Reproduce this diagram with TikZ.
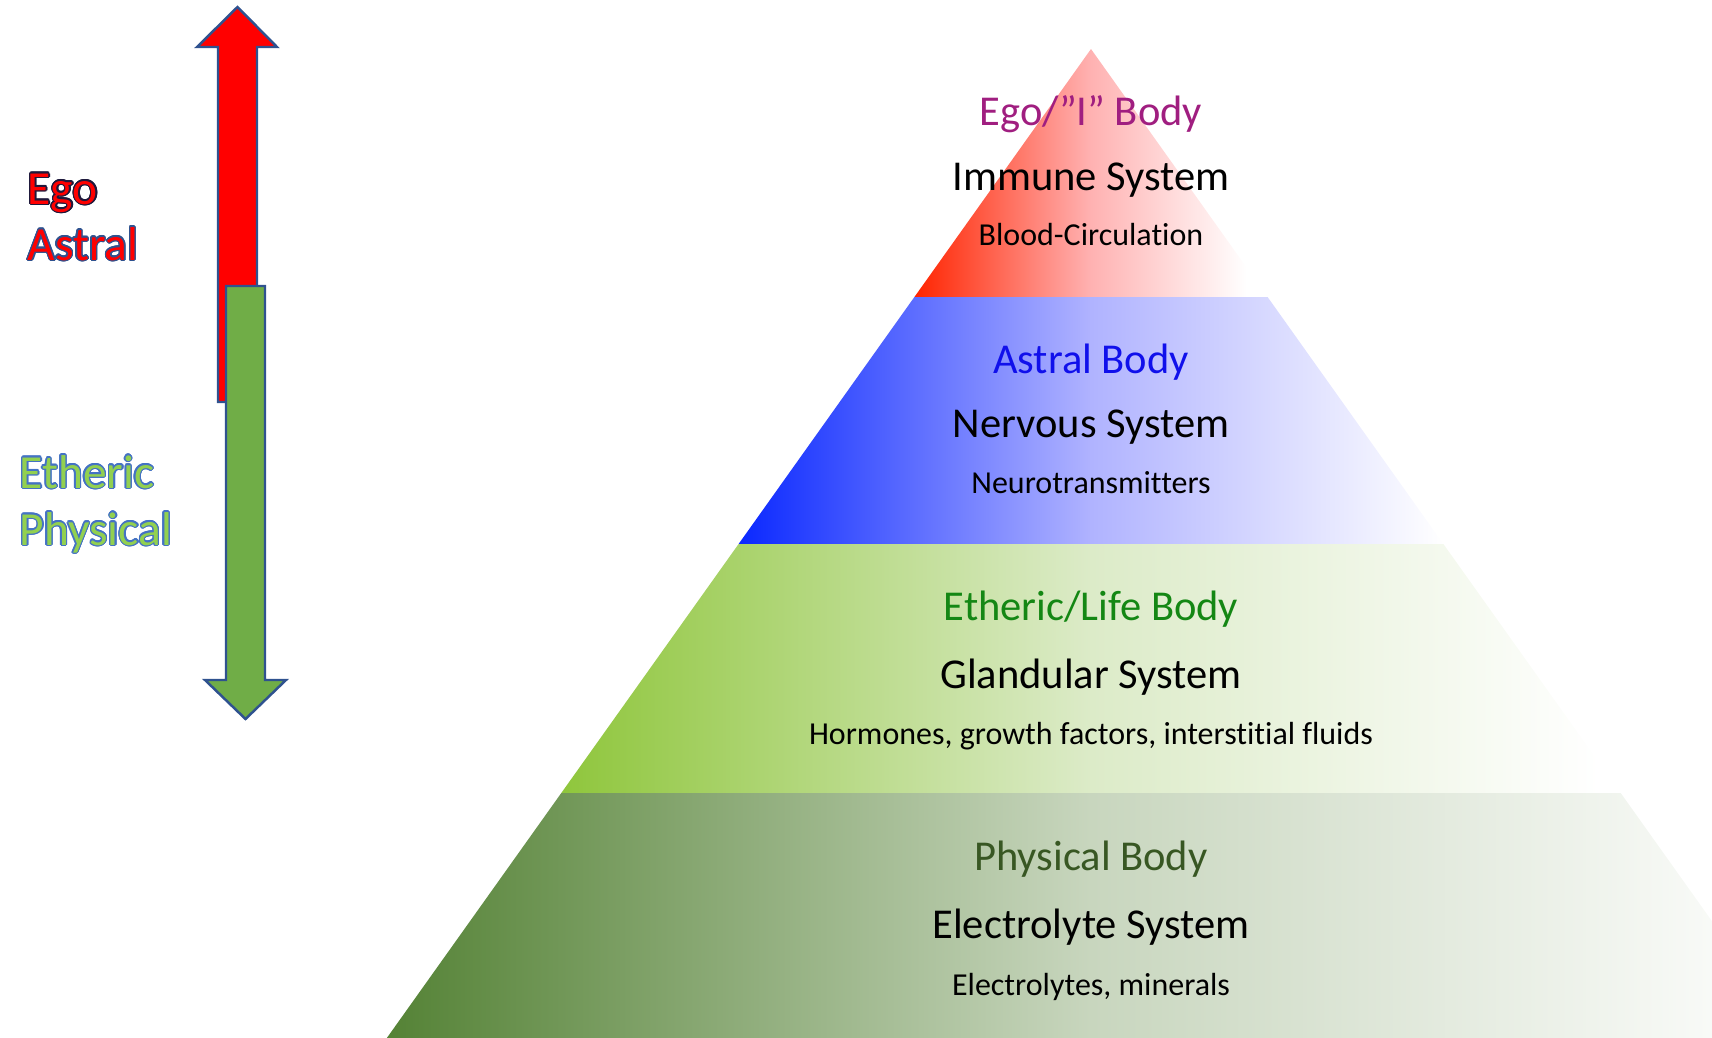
\documentclass[tikz,border=0pt]{standalone}
\usepackage{fontspec}
\setmainfont{Carlito}[Ligatures=NoCommon]
\usepackage{contour}
\contourlength{0.38pt}

\definecolor{arrowline}{RGB}{47,82,143}
\definecolor{arrowgreen}{RGB}{112,173,71}
\definecolor{sideline}{RGB}{68,114,196}
\definecolor{sidegreen}{RGB}{146,208,80}
\definecolor{egoline}{RGB}{30,25,60}
% tier colours, left end and middle of each band
\definecolor{egoleft}{RGB}{255,36,0}
\definecolor{egomid}{RGB}{255,178,178}
\definecolor{astralleft}{RGB}{10,40,255}
\definecolor{astralmid}{RGB}{176,179,255}
\definecolor{ethericleft}{RGB}{143,198,60}
\definecolor{ethericmid}{RGB}{220,235,200}
\definecolor{physleft}{RGB}{84,130,53}
\definecolor{physmid}{RGB}{200,214,190}
% label colours
\definecolor{egotext}{RGB}{160,30,128}
\definecolor{astraltext}{RGB}{16,16,235}
\definecolor{etherictext}{RGB}{20,135,20}
\definecolor{phystext}{RGB}{56,87,35}

% left to right fades into white
\pgfdeclarehorizontalshading{egoshade}{100bp}{color(0bp)=(egoleft); color(25bp)=(egoleft);
  color(50bp)=(egomid); color(72bp)=(white); color(100bp)=(white)}
\pgfdeclarehorizontalshading{astralshade}{100bp}{color(0bp)=(astralleft); color(25bp)=(astralleft);
  color(50bp)=(astralmid); color(75bp)=(white); color(100bp)=(white)}
\pgfdeclarehorizontalshading{ethericshade}{100bp}{color(0bp)=(ethericleft); color(25bp)=(ethericleft);
  color(50bp)=(ethericmid); color(74bp)=(white); color(100bp)=(white)}
\pgfdeclarehorizontalshading{physshade}{100bp}{color(0bp)=(physleft); color(25bp)=(physleft);
  color(50bp)=(physmid); color(75bp)=(white); color(100bp)=(white)}

\begin{document}
\begin{tikzpicture}[x=0.1mm,y=-0.1mm,
    title/.style={font=\fontsize{12.1}{14}\selectfont,anchor=base},
    detail/.style={font=\fontsize{9.1}{11}\selectfont,anchor=base},
    side/.style={font=\fontsize{13.5}{16}\selectfont,anchor=base west,inner sep=0pt},
    arrowshape/.style={draw=arrowline,line width=0.7pt,line join=miter}]
  \useasboundingbox (0,0) rectangle (1712,1038);
  \clip (0,0) rectangle (1712,1038);

  % pyramid tiers
  \shade[shading=egoshade]
    (1091,49) -- (1267.6,297) -- (914.4,297) -- cycle;
  \shade[shading=astralshade]
    (914.4,297) -- (1267.6,297) -- (1443.4,544) -- (738.6,544) -- cycle;
  \shade[shading=ethericshade]
    (738.6,544) -- (1443.4,544) -- (1620.7,793) -- (561.3,793) -- cycle;
  \shade[shading=physshade]
    (561.3,793) -- (1620.7,793) -- (1797.3,1041) -- (384.7,1041) -- cycle;

  % tier labels
  \node[title,text=egotext] (ego) at (1091,125) {Ego/”I” Body};
  \node[title] (immune) at (1091,190) {Immune System};
  \node[detail] (blood) at (1091,245) {Blood-Circulation};

  \node[title,text=astraltext] (astral) at (1091,373) {Astral Body};
  \node[title] (nervous) at (1091,437) {Nervous System};
  \node[detail] (neuro) at (1091,493) {Neurotransmitters};

  \node[title,text=etherictext] (etheric) at (1091,620) {Etheric/Life Body};
  \node[title] (glandular) at (1091,688) {Glandular System};
  \node[detail] (hormones) at (1091,744) {Hormones, growth factors, interstitial fluids};

  \node[title,text=phystext] (physical) at (1091,870) {Physical Body};
  \node[title] (electrolyte) at (1091,938) {Electrolyte System};
  \node[detail] (minerals) at (1091,995) {Electrolytes, minerals};

  % up and down arrows
  \draw[arrowshape,fill=red]
    (237.5,7) -- (277,47) -- (257,47) -- (257,402)
    -- (218,402) -- (218,47) -- (197,47) -- cycle;
  \draw[arrowshape,fill=arrowgreen]
    (226,286) -- (265,286) -- (265,680) -- (286,680)
    -- (245.5,719) -- (205,680) -- (226,680) -- cycle;

  \node[side,text=red] (egoside) at (27,204) {\contour{egoline}{Ego}};
  \node[side,text=red] (astralside) at (27,260) {\contour{arrowline}{Astral}};
  \node[side,text=sidegreen] (ethericside) at (19,488) {\contour{sideline}{Etheric}};
  \node[side,text=sidegreen] (physside) at (19,545) {\contour{sideline}{Physical}};
\end{tikzpicture}
\end{document}
